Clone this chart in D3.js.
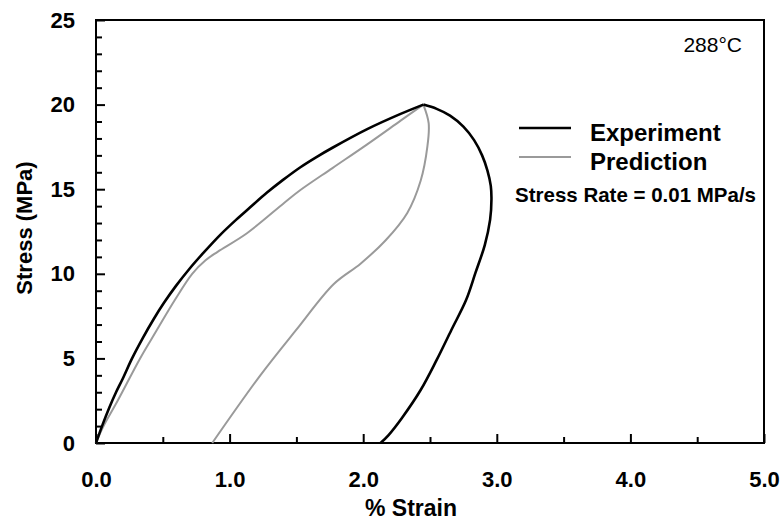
<!DOCTYPE html>
<html>
<head>
<meta charset="utf-8">
<script src="https://cdn.jsdelivr.net/npm/d3@7"></script>
<style>
  html, body { margin: 0; padding: 0; background: #fff; }
  svg { display: block; }
  text { font-family: "Liberation Sans", Arial, Helvetica, sans-serif; fill: #000; }
</style>
</head>
<body>
<svg id="chart" width="782" height="522"></svg>
<script>
// Stress-strain loop at 288°C, stress rate 0.01 MPa/s
const expLoadStrain   = [0.00, 0.05, 0.10, 0.15, 0.20, 0.27, 0.35, 0.43, 0.51, 0.60, 0.70, 0.80, 0.93, 1.05, 1.15, 1.28, 1.40, 1.53, 1.65, 1.77, 2.03, 2.28, 2.45];
const expLoadStress   = [0.0, 1.1, 2.1, 3.0, 3.8, 5.0, 6.2, 7.3, 8.3, 9.3, 10.3, 11.2, 12.3, 13.2, 13.9, 14.8, 15.55, 16.3, 16.9, 17.45, 18.55, 19.45, 20.0];
const expUnloadStrain = [2.45, 2.55, 2.65, 2.75, 2.83, 2.89, 2.93, 2.955, 2.96, 2.95, 2.91, 2.84, 2.77, 2.66, 2.55, 2.43, 2.29, 2.19, 2.13];
const expUnloadStress = [20.0, 19.75, 19.35, 18.7, 17.9, 17.0, 16.1, 15.2, 14.4, 13.2, 11.7, 10.05, 8.45, 6.68, 4.91, 3.13, 1.48, 0.47, 0.0];

const predLoadStrain   = [0.00, 0.05, 0.165, 0.33, 0.45, 0.59, 0.72, 0.82, 0.91, 1.13, 1.41, 1.53, 1.77, 2.03, 2.28, 2.45];
const predLoadStress   = [0.0, 0.9, 2.54, 5.0, 6.6, 8.45, 10.0, 10.8, 11.3, 12.4, 14.2, 14.95, 16.25, 17.65, 19.05, 20.0];
const predUnloadStrain = [2.45, 2.49, 2.48, 2.43, 2.33, 2.17, 1.98, 1.78, 1.50, 1.23, 0.87];
const predUnloadStress = [20.0, 18.9, 17.5, 15.5, 13.6, 12.0, 10.6, 9.4, 6.7, 4.0, 0.0];

const xMajorTicks = [0, 1, 2, 3, 4, 5];
const xTickLabels = ["0.0", "1.0", "2.0", "3.0", "4.0", "5.0"];
const yMajorTicks = [0, 5, 10, 15, 20, 25];

const svg = d3.select("#chart");
const plotLeft = 96, plotRight = 764, plotTop = 20, plotBottom = 443;

const x = d3.scaleLinear().domain([0, 5]).range([plotLeft, plotRight]);
const y = d3.scaleLinear().domain([0, 25]).range([plotBottom, plotTop]);

const styleLines = g => g.selectAll("line").attr("stroke", "#000").attr("stroke-width", 2);
const styleLabels = g => g.selectAll("text").attr("font-size", 22).attr("font-weight", "bold")
  .attr("font-family", "Liberation Sans, Arial, sans-serif").attr("fill", "#000");

// minor ticks (inward)
svg.append("g")
  .attr("transform", `translate(0,${plotBottom})`)
  .call(d3.axisBottom(x).tickValues(d3.range(0.5, 5, 1)).tickSize(-6).tickFormat(""))
  .call(g => g.select(".domain").remove())
  .call(styleLines);
svg.append("g")
  .attr("transform", `translate(${plotLeft},0)`)
  .call(d3.axisLeft(y).tickValues(d3.range(1, 25).filter(v => v % 5 !== 0)).tickSize(-6).tickFormat(""))
  .call(g => g.select(".domain").remove())
  .call(styleLines);

// major ticks with labels
svg.append("g")
  .attr("transform", `translate(0,${plotBottom})`)
  .call(d3.axisBottom(x).tickValues(xMajorTicks).tickSize(-9).tickPadding(28)
        .tickFormat((d, i) => xTickLabels[i]))
  .call(g => g.select(".domain").remove())
  .call(styleLines)
  .call(styleLabels);
svg.append("g")
  .attr("transform", `translate(${plotLeft},0)`)
  .call(d3.axisLeft(y).tickValues(yMajorTicks).tickSize(-9).tickPadding(21))
  .call(g => g.select(".domain").remove())
  .call(styleLines)
  .call(styleLabels);

// frame
svg.append("rect")
  .attr("x", plotLeft).attr("y", plotTop)
  .attr("width", plotRight - plotLeft).attr("height", plotBottom - plotTop)
  .attr("fill", "none").attr("stroke", "#000").attr("stroke-width", 2);

// curves
const line = d3.line().x(d => x(d[0])).y(d => y(d[1])).curve(d3.curveCatmullRom.alpha(0.5));
const zip = (a, b) => a.map((v, i) => [v, b[i]]);

const series = [
  { name: "pred-load",   pts: zip(predLoadStrain, predLoadStress),     color: "#9a9a9a", w: 2 },
  { name: "pred-unload", pts: zip(predUnloadStrain, predUnloadStress), color: "#9a9a9a", w: 2 },
  { name: "exp-load",    pts: zip(expLoadStrain, expLoadStress),       color: "#000",    w: 2.6 },
  { name: "exp-unload",  pts: zip(expUnloadStrain, expUnloadStress),   color: "#000",    w: 2.6 }
];
svg.append("g").selectAll("path").data(series).join("path")
  .attr("d", d => line(d.pts))
  .attr("fill", "none")
  .attr("stroke", d => d.color)
  .attr("stroke-width", d => d.w)
  .attr("stroke-linejoin", "round");

// legend
const legend = [
  { label: "Experiment", color: "#000", w: 2.6, ly: 128 },
  { label: "Prediction", color: "#9a9a9a", w: 2, ly: 157 }
];
const lg = svg.append("g");
lg.selectAll("line").data(legend).join("line")
  .attr("x1", 519).attr("x2", 571)
  .attr("y1", d => d.ly).attr("y2", d => d.ly)
  .attr("stroke", d => d.color).attr("stroke-width", d => d.w);
lg.selectAll("text").data(legend).join("text")
  .attr("x", 590).attr("y", d => d.ly + 13)
  .attr("font-size", 24).attr("font-weight", "bold")
  .text(d => d.label);

svg.append("text")
  .attr("x", 515).attr("y", 202)
  .attr("font-size", 20.5).attr("font-weight", "bold")
  .text("Stress Rate = 0.01 MPa/s");

svg.append("text")
  .attr("x", 742).attr("y", 52)
  .attr("text-anchor", "end")
  .attr("font-size", 21)
  .text("288°C");

// axis titles
svg.append("text")
  .attr("x", 411).attr("y", 516)
  .attr("text-anchor", "middle")
  .attr("font-size", 23).attr("font-weight", "bold")
  .text("% Strain");

svg.append("text")
  .attr("transform", "translate(32,228) rotate(-90)")
  .attr("text-anchor", "middle")
  .attr("font-size", 22).attr("font-weight", "bold")
  .text("Stress (MPa)");
</script>
</body>
</html>
